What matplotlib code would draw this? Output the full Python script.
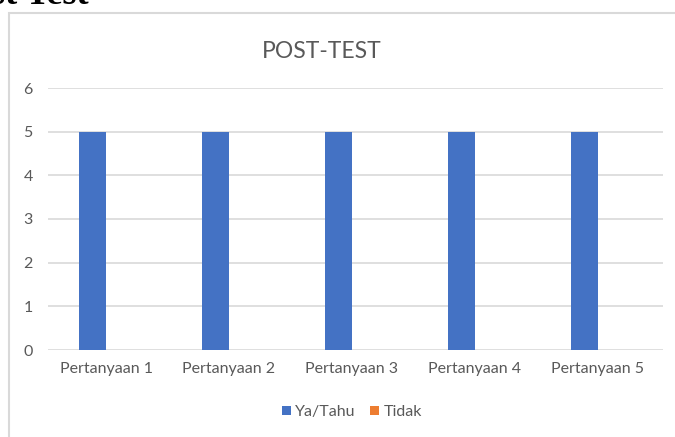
import numpy as np
import matplotlib
matplotlib.use("Agg")
import matplotlib.pyplot as plt
from matplotlib.patches import Rectangle

categories = ["Pertanyaan 1", "Pertanyaan 2", "Pertanyaan 3", "Pertanyaan 4", "Pertanyaan 5"]
ya_tahu = [5, 5, 5, 5, 5]
tidak = [0, 0, 0, 0, 0]
series_names = ["Ya/Tahu", "Tidak"]
yticks = [0, 1, 2, 3, 4, 5, 6]

plt.rcParams['font.family'] = ['Lato', 'DejaVu Sans']
grey = '#595959'

fig = plt.figure(figsize=(6.75, 4.37), dpi=100)
ax = fig.add_axes([48/675, 1-350/437, (663-48)/675, (350-88)/437])

x = np.arange(len(categories))
w = 0.22
ax.bar(x - w/2, ya_tahu, w, color='#4472C4', label=series_names[0], zorder=3)
ax.bar(x + w/2, tidak, w, color='#ED7D31', label=series_names[1], zorder=3)

ax.set_xlim(-0.472, 4.532)
ax.set_ylim(0, 6)
ax.set_yticks(yticks)
ax.set_xticks(x)
ax.set_xticklabels(categories)
ax.grid(axis='y', color='#d9d9d9', linewidth=1.2, zorder=0)
for s in ax.spines.values():
    s.set_visible(False)
ax.tick_params(length=0, colors=grey, labelsize=11.5)
ax.tick_params(axis='y', pad=11)
ax.tick_params(axis='x', pad=9)

fig.text(322/675, 1-52/437, "POST-TEST", ha='center', va='center', fontsize=16.5, color=grey)

leg = fig.legend(loc='center', bbox_to_anchor=(352/675, 1-412/437), ncol=2, frameon=False,
                 fontsize=11.5, handlelength=0.55, handleheight=0.55, handletextpad=0.3,
                 columnspacing=0.9)
for t in leg.get_texts():
    t.set_color(grey)

# chart border (cropped on right and bottom)
fig.patches.append(Rectangle((9/675, -0.1), 1.2, 1.1 - 13/437, transform=fig.transFigure,
                             fill=False, edgecolor='#d9d9d9', linewidth=1.5))

# cropped document heading
fig.text(-9/675, 1-3.5/437, "st Test", ha='left', va='baseline', fontsize=26, fontweight='bold',
         family='Liberation Serif', color='black')

fig.savefig("out.png", dpi=100)
